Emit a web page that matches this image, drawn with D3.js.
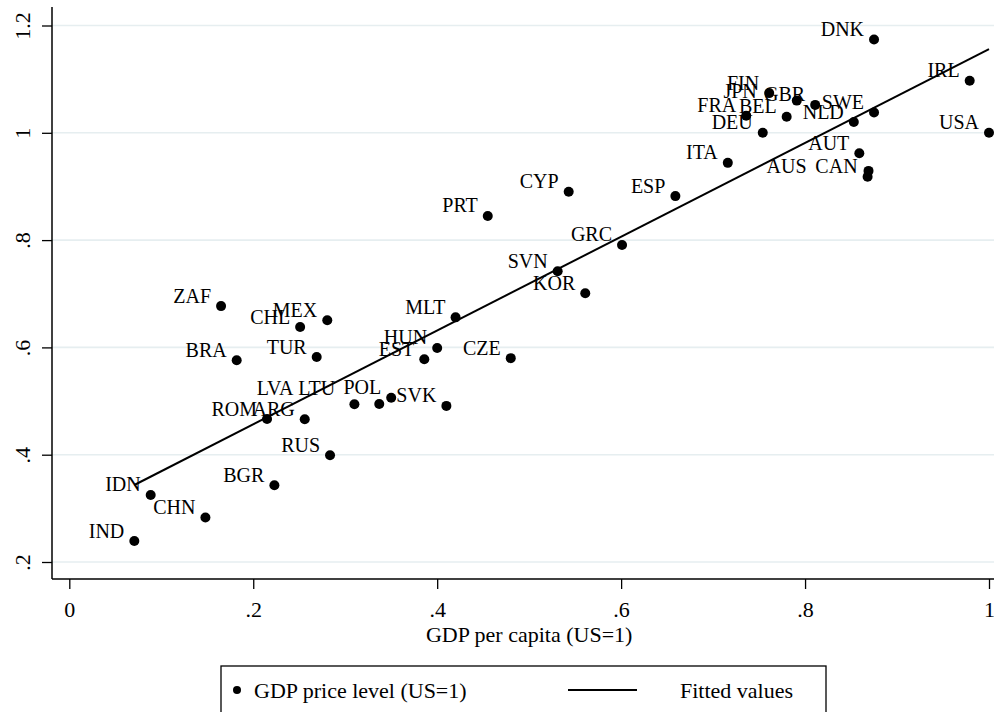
<!DOCTYPE html>
<html>
<head>
<meta charset="utf-8">
<script src="https://cdn.jsdelivr.net/npm/d3@7"></script>
<style>
  html, body { margin: 0; padding: 0; background: #fff; }
  svg { display: block; }
</style>
</head>
<body>
<svg id="chart" width="994" height="712"></svg>
<script>
// ---- data ----
const countries = ["DNK","IRL","USA","FIN","JPN","GBR","FRA","BEL","DEU","NLD","SWE","AUT","AUS","CAN","ITA",
  "ESP","CYP","PRT","GRC","SVN","KOR","MLT","HUN","EST","CZE","SVK","POL","LTU","LVA","ARG","ROM","RUS",
  "BGR","TUR","MEX","CHL","ZAF","BRA","IDN","CHN","IND"];
const gdpPerCapita = [0.875,0.979,1.000,0.761,0.791,0.811,0.736,0.780,0.754,0.853,0.875,0.859,0.869,0.868,0.716,
  0.659,0.543,0.455,0.601,0.531,0.561,0.420,0.400,0.386,0.480,0.410,0.350,0.337,0.310,0.256,0.215,0.2835,
  0.223,0.269,0.2805,0.251,0.165,0.182,0.0885,0.148,0.0707];
const priceLevel = [1.174,1.097,1.000,1.074,1.060,1.052,1.032,1.030,1.000,1.020,1.038,0.962,0.929,0.918,0.944,
  0.882,0.890,0.845,0.791,0.742,0.701,0.656,0.599,0.578,0.580,0.491,0.506,0.4945,0.494,0.466,0.4665,0.399,
  0.343,0.582,0.6505,0.638,0.677,0.576,0.325,0.283,0.239];
const fittedX = [0.0707, 1.0];
const fittedY = [0.3435, 1.156];
const xTicks = [0, 0.2, 0.4, 0.6, 0.8, 1];
const xTickLabels = ["0", ".2", ".4", ".6", ".8", "1"];
const yTicks = [0.2, 0.4, 0.6, 0.8, 1, 1.2];
const yTickLabels = [".2", ".4", ".6", ".8", "1", "1.2"];
const xTitle = "GDP per capita (US=1)";
const legendLabels = ["GDP price level (US=1)", "Fitted values"];

// label nudges (style only, in px)
const labelShift = { JPN: [-30, 1], LVA: [-51, -6], LTU: [-34, -6], AUS: [-52, 6] };

const FONT = '"Liberation Serif", "Times New Roman", Tinos, serif';

// ---- layout ----
const svg = d3.select("#chart");
svg.append("rect").attr("width", 994).attr("height", 712).attr("fill", "#fff");

const plotLeft = 52, plotRight = 994, plotTop = 7, plotBottom = 579;
const x = d3.scaleLinear().domain([0, 1]).range([69.3, 989]);
const y = d3.scaleLinear().domain([0.2, 1.2]).range([562, 25.5]);

// gridlines
svg.append("g").selectAll("line").data(yTicks).join("line")
  .attr("x1", plotLeft).attr("x2", plotRight)
  .attr("y1", d => y(d)).attr("y2", d => y(d))
  .attr("stroke", "#e6eef0").attr("stroke-width", 1.6);

// axes
const xAxis = d3.axisBottom(x).tickValues(xTicks)
  .tickFormat((d, i) => xTickLabels[i]).tickSize(10).tickPadding(10).tickSizeOuter(0);
const gx = svg.append("g").attr("transform", `translate(0,${plotBottom})`).call(xAxis)
  .attr("font-family", null).attr("font-size", null);
gx.select(".domain").remove();
gx.selectAll(".tick line").attr("stroke", "#000").attr("stroke-width", 1.3);
gx.selectAll(".tick text").attr("font-size", 22).attr("fill", "#000")
  .attr("y", 30).attr("dy", null).attr("dominant-baseline", "central");

const yAxis = d3.axisLeft(y).tickValues(yTicks)
  .tickFormat((d, i) => yTickLabels[i]).tickSize(10).tickSizeOuter(0);
const gy = svg.append("g").attr("transform", `translate(${plotLeft},0)`).call(yAxis)
  .attr("font-family", null).attr("font-size", null);
gy.select(".domain").remove();
gy.selectAll(".tick line").attr("stroke", "#000").attr("stroke-width", 1.3);
gy.selectAll(".tick text")
  .attr("font-size", 22).attr("fill", "#000")
  .attr("text-anchor", "middle").attr("x", null).attr("dy", null)
  .attr("transform", "translate(-30,0) rotate(-90)")
  .attr("dominant-baseline", "central");

// axis lines (plot region left & bottom)
svg.append("line").attr("x1", plotLeft).attr("x2", plotLeft).attr("y1", plotTop).attr("y2", plotBottom)
  .attr("stroke", "#000").attr("stroke-width", 1.5);
svg.append("line").attr("x1", plotLeft).attr("x2", plotRight).attr("y1", plotBottom).attr("y2", plotBottom)
  .attr("stroke", "#000").attr("stroke-width", 1.5);

// axis title
svg.append("text").attr("x", (x(0) + x(1)) / 2).attr("y", 634)
  .attr("text-anchor", "middle").attr("dominant-baseline", "central")
  .attr("font-size", 22).text(xTitle);

// fitted line
const line = d3.line().x(d => x(d[0])).y(d => y(d[1]));
svg.append("path").datum(fittedX.map((v, i) => [v, fittedY[i]]))
  .attr("d", line).attr("fill", "none").attr("stroke", "#000").attr("stroke-width", 2);

// points
const pts = countries.map((c, i) => ({ c, gx: gdpPerCapita[i], py: priceLevel[i] }));
svg.append("g").selectAll("circle").data(pts).join("circle")
  .attr("cx", d => x(d.gx)).attr("cy", d => y(d.py)).attr("r", 5).attr("fill", "#000");

// labels (clock position 10)
svg.append("g").selectAll("text").data(pts).join("text")
  .attr("x", d => x(d.gx) - 10 + (labelShift[d.c] ? labelShift[d.c][0] : 0))
  .attr("y", d => y(d.py) - 10.5 + (labelShift[d.c] ? labelShift[d.c][1] : 0))
  .attr("text-anchor", "end").attr("dominant-baseline", "central")
  .attr("font-size", 20).text(d => d.c);

// legend
const lg = svg.append("g");
lg.append("rect").attr("x", 221).attr("y", 666).attr("width", 605).attr("height", 60)
  .attr("fill", "#fff").attr("stroke", "#000").attr("stroke-width", 1.3);
lg.append("circle").attr("cx", 237).attr("cy", 690).attr("r", 4).attr("fill", "#000");
lg.append("text").attr("x", 254).attr("y", 690).attr("dominant-baseline", "central")
  .attr("font-size", 22).text(legendLabels[0]);
lg.append("line").attr("x1", 568).attr("x2", 637).attr("y1", 690).attr("y2", 690)
  .attr("stroke", "#000").attr("stroke-width", 2);
lg.append("text").attr("x", 680).attr("y", 690).attr("dominant-baseline", "central")
  .attr("font-size", 22).text(legendLabels[1]);

// font for all texts
svg.selectAll("text").style("font-family", FONT).style("fill", "#000");
</script>
</body>
</html>
